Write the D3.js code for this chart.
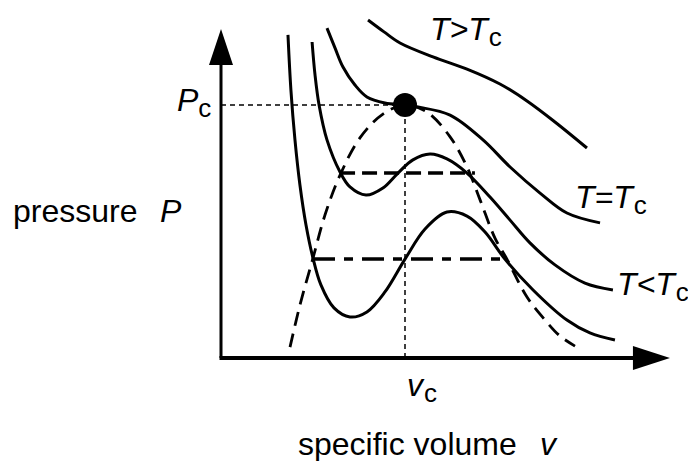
<!DOCTYPE html>
<html>
<head>
<meta charset="utf-8">
<script src="https://cdn.jsdelivr.net/npm/d3@7"></script>
<style>
  body { margin: 0; background: #fff; }
  svg { display: block; }
  text { font-family: "Liberation Sans", Arial, Helvetica, sans-serif; font-size: 32px; fill: #000; }
  .curve { fill: none; stroke: #000; stroke-width: 3; }
  .dome { fill: none; stroke: #000; stroke-width: 2.8; stroke-dasharray: 14,8; }
  .guide { fill: none; stroke: #000; stroke-width: 1.5; stroke-dasharray: 5,4; }
</style>
</head>
<body>
<svg class="pv" width="688" height="461"></svg>
<script>
// isotherms as [v, P], with v_c = 1 and P_c = 1
var isoHot = [[0.799,1.336],[0.886,1.289],[0.973,1.245],[1.152,1.190],[1.337,1.142],
  [1.516,1.083],[1.663,1.016],[1.815,0.933],[1.989,0.830]];
var isoCrit = [[0.576,1.304],[0.620,1.225],[0.663,1.150],[0.728,1.079],[0.793,1.032],
  [0.891,1.008],[1.000,1.000],[1.071,0.992],[1.245,0.960],[1.424,0.862],[1.571,0.755],
  [1.734,0.652],[1.880,0.573],[2.060,0.534]];
var isoLow1 = [[0.495,1.249],[0.511,1.119],[0.533,1.000],[0.576,0.862],[0.647,0.735],
  [0.701,0.676],[0.788,0.644],[0.880,0.672],[0.962,0.731],[1.043,0.783],[1.136,0.806],
  [1.228,0.787],[1.337,0.731],[1.462,0.636],[1.571,0.545],[1.679,0.455],[1.815,0.368],
  [1.978,0.296],[2.130,0.269]];
var isoLow2 = [[0.364,1.277],[0.380,1.059],[0.402,0.862],[0.429,0.684],[0.462,0.526],
  [0.500,0.395],[0.543,0.289],[0.614,0.198],[0.701,0.162],[0.793,0.182],[0.891,0.261],
  [1.000,0.391],[1.109,0.510],[1.228,0.577],[1.337,0.561],[1.435,0.498],[1.543,0.391],
  [1.696,0.269],[1.880,0.150],[2.005,0.099],[2.141,0.071]];
// coexistence dome
var dome = [[0.375,0.043],[0.429,0.209],[0.500,0.395],[0.565,0.565],[0.647,0.723],
  [0.755,0.870],[0.880,0.964],[1.000,1.000],[1.120,0.972],[1.245,0.874],[1.337,0.755],
  [1.408,0.625],[1.489,0.474],[1.554,0.391],[1.663,0.241],[1.761,0.150],[1.842,0.087],
  [1.924,0.047]];
// tie lines: [vStart, vEnd, P]
var tieUpper = [0.647, 1.380, 0.731];
var tieLower = [0.500, 1.538, 0.391];
var critical = [1, 1];
var axisEnd = [2.44, 1.30];

var svg = d3.select("svg.pv");

var x = d3.scaleLinear().domain([0, 1]).range([221, 405]);
var y = d3.scaleLinear().domain([0, 1]).range([358, 105]);

var line = d3.line()
    .x(function(d) { return x(d[0]); })
    .y(function(d) { return y(d[1]); })
    .curve(d3.curveCatmullRom.alpha(0.5));

// dashed guides to P_c and v_c
svg.append("path")
  .attr("class", "guide")
  .attr("d", "M" + x(0) + "," + y(critical[1]) + "H" + x(critical[0]) + "V" + y(0));

// axes with arrowheads
svg.append("path")
  .attr("fill", "none").attr("stroke", "#000").attr("stroke-width", 3)
  .attr("d", "M" + x(0) + "," + (y(axisEnd[1]) + 30) + "V" + y(0));
svg.append("path")
  .attr("fill", "none").attr("stroke", "#000").attr("stroke-width", 4)
  .attr("d", "M" + (x(0) - 1.5) + "," + y(0) + "H" + (x(axisEnd[0]) - 30));
svg.append("path")
  .attr("d", "M" + x(0) + "," + y(axisEnd[1]) + "l-12,36h24z");
svg.append("path")
  .attr("d", "M" + x(axisEnd[0]) + "," + y(0) + "l-37,-12v24z");

svg.append("path").datum(dome).attr("class", "dome").attr("d", line);

[isoHot, isoCrit, isoLow1, isoLow2].forEach(function(c) {
  svg.append("path").datum(c).attr("class", "curve").attr("d", line);
});

svg.append("line")
  .attr("x1", x(tieUpper[0])).attr("x2", x(tieUpper[1]))
  .attr("y1", y(tieUpper[2])).attr("y2", y(tieUpper[2]))
  .attr("stroke", "#000").attr("stroke-width", 3.5)
  .attr("stroke-dasharray", "15,7");
svg.append("line")
  .attr("x1", x(tieLower[0])).attr("x2", x(tieLower[1]))
  .attr("y1", y(tieLower[2])).attr("y2", y(tieLower[2]))
  .attr("stroke", "#000").attr("stroke-width", 3.5)
  .attr("stroke-dasharray", "22,9,9,9");

svg.append("circle")
  .attr("cx", x(critical[0])).attr("cy", y(critical[1]))
  .attr("r", 12);

// labels
function label(px, py, main, sub, dx) {
  var t = svg.append("text").attr("x", px).attr("y", py);
  t.append("tspan").attr("font-style", "italic").text(main);
  if (sub) t.append("tspan").attr("dx", dx || 0).attr("dy", 6).attr("font-size", "26px").text(sub);
  return t;
}
label(177, 111, "P", "c", 0);
label(407, 396, "v", "c", 1);
label(430, 40, "T>T", "c", 1);
label(575, 208, "T=T", "c", 1);
label(617, 295, "T<T", "c", 1);

var py = svg.append("text").attr("x", 13).attr("y", 222);
py.append("tspan").text("pressure");
py.append("tspan").attr("x", 160).attr("font-style", "italic").text("P");

var vx = svg.append("text").attr("x", 298).attr("y", 455);
vx.append("tspan").text("specific volume");
vx.append("tspan").attr("x", 540).attr("font-style", "italic").text("v");
</script>
</body>
</html>
